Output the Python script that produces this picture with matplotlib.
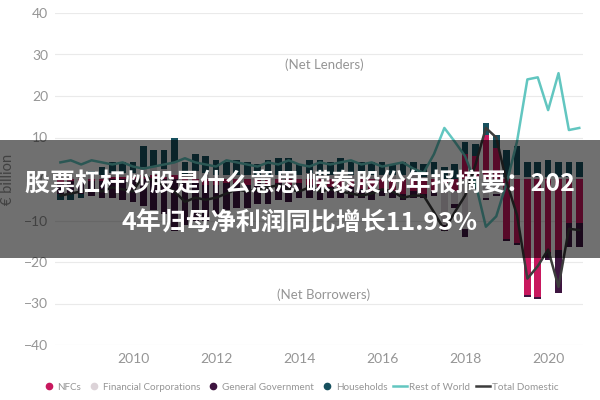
import numpy as np
import matplotlib
matplotlib.use("Agg")
import matplotlib.pyplot as plt
from matplotlib.lines import Line2D
from matplotlib.patches import Rectangle

# quarters 2008Q2 .. 2020Q4
quarters = [f"{y}Q{q}" for y in range(2008, 2021) for q in range(1, 5)][1:]
xpos = np.array([int(s[:4]) + (int(s[-1]) - 1) / 4 for s in quarters])

nfc = [-1.0, -0.5, -0.5, -0.5, -0.5, 0.5, 0.5, 0.5, 1.0, 1.0, 0.5, 1.0, -1.0, -1.0, -1.5,
       -1.5, -1.0, -1.0, -1.5, -1.0, -1.5, -1.0, -1.5, -1.0, -1.5, -2.0, -2.0, -2.5, -2.0,
       -2.5, -3.0, -2.5, -3.0, -3.5, -3.0, -3.5, -3.0, -1.0, -3.0, 6.0, 5.5, 10.5, 7.5,
       -14.5, -15.5, -28.0, -28.5, -17.5, -17.0, -10.5, -10.5]
fin = [0.5, 0.5, 1.0, 1.0, 1.0, 1.0, 1.0, 1.0, 2.0, 2.0, 2.0, 3.0, 1.0, 2.0, 1.5,
       1.0, 1.0, 1.0, 1.0, 0.5, 1.0, 1.0, 1.5, 1.0, 1.5, 1.0, 1.0, 1.5, 1.0,
       1.5, 1.0, 1.0, 1.0, 1.0, 1.0, 0.5, 1.0, -10.0, -3.0, -12.0, -2.0, -4.5, -3.5,
       0.5, 1.0, 0.5, 0.5, 0.5, 0.5, 0.5, 0.5]
gov = [-2.5, -3.0, -3.0, -3.5, -4.0, -4.5, -5.0, -5.5, -6.5, -7.5, -8.5, -12.5, -10.0, -9.0, -8.5,
       -7.0, -6.5, -6.0, -5.5, -5.0, -4.5, -4.0, -4.0, -3.5, -3.0, -3.0, -2.5, -2.0, -2.5,
       -2.0, -2.0, -1.5, -1.5, -1.5, -1.5, -1.0, -1.0, -1.5, -1.0, -2.0, -0.5, -0.5, -0.5,
       -0.5, -0.5, -0.5, -0.5, -2.0, -10.5, -6.0, -6.0]
hh = [-1.5, -1.5, -1.0, 1.0, 2.0, 2.5, 2.5, 2.5, 5.0, 4.0, 4.5, 6.0, 3.0, 4.0, 4.0,
      3.5, 3.0, 3.5, 3.0, 3.0, 3.5, 4.0, 3.5, 2.5, 3.0, 3.5, 3.0, 3.5, 3.0,
      2.5, 3.0, 3.0, 2.5, 3.0, 3.0, 3.0, 3.0, 3.0, 3.5, 3.0, 3.0, 3.0, 3.0,
      6.5, 7.0, 3.5, 3.5, 4.0, 3.5, 3.5, 3.5]
row = [4.0, 4.5, 3.5, 4.5, 4.0, 3.5, 4.0, 3.0, 2.5, 3.0, 3.5, 4.0, 5.0, 4.0, 3.5,
       3.0, 4.5, 4.0, 3.5, 3.0, 4.0, 3.5, 4.5, 3.5, 3.0, 4.0, 3.5, 4.0, 4.5,
       3.5, 4.0, 3.0, 3.5, 4.0, 2.5, 1.5, 6.0, 12.3, 9.0, 5.5, -1.0, -11.5, -9.0,
       -1.0, 9.0, 24.0, 24.5, 16.6, 25.5, 11.8, 12.3]
tot = [-4.0, -3.5, -3.0, -2.5, -3.0, -2.0, -2.5, -3.0, 1.0, -0.5, -1.5, -3.0, -5.5, -4.5, -5.0,
       -4.5, -3.5, -2.5, -3.0, -2.5, -2.0, -1.5, -2.5, -3.0, -2.0, -3.0, -2.5, -3.0, -3.5,
       -4.0, -3.5, -2.5, -3.0, -4.5, -4.0, -4.0, -8.0, -12.3, -8.0, -4.0, 3.5, 12.3, 10.0,
       -0.7, -8.7, -24.0, -21.0, -17.0, -26.0, -12.0, -12.3]

series = [("NFCs", nfc, "#C8185E"),
          ("Financial Corporations", fin, "#DCD3D8"),
          ("General Government", gov, "#3E1540"),
          ("Households", hh, "#17505E")]
row_color = "#62C6C0"
tot_color = "#3C3C3C"

y_ticks = [40, 30, 20, 10, 0, -10, -20, -30, -40]
x_ticks = [2010, 2012, 2014, 2016, 2018, 2020]

grey = "#959595"
fig = plt.figure(figsize=(6, 4), dpi=100)
ax = fig.add_axes([55 / 600, 55 / 400, 528 / 600, 332 / 400])
ax.set_xlim(2008.12, 2020.84)
ax.set_ylim(-40, 40)

pos_base = np.zeros(len(xpos))
neg_base = np.zeros(len(xpos))
w = 0.16
for name, vals, col in series:
    v = np.array(vals)
    bottom = np.where(v >= 0, pos_base, neg_base)
    ax.bar(xpos, v, bottom=bottom, width=w, color=col, zorder=2, linewidth=0)
    pos_base = pos_base + np.where(v >= 0, v, 0)
    neg_base = neg_base + np.where(v < 0, v, 0)

ax.plot(xpos, row, color=row_color, lw=1.8, zorder=3)
ax.plot(xpos, tot, color=tot_color, lw=1.8, zorder=3)

ax.set_yticks(y_ticks)
ax.set_xticks(x_ticks)
ax.grid(axis="y", color="#EAEAEA", lw=0.8, zorder=0)
ax.set_axisbelow(True)
for s in ax.spines.values():
    s.set_visible(False)
ax.tick_params(length=0, colors=grey, labelsize=10)
ax.tick_params(axis="x", pad=6)
ax.tick_params(axis="y", pad=5)
for lab in ax.get_xticklabels() + ax.get_yticklabels():
    lab.set_fontfamily("Lato")
ax.set_ylabel("€ billion", color=grey, fontsize=10.5, family="Lato")
ax.yaxis.set_label_coords(-40 / 528, 0.5)

ax.text(2014.6, 27.5, "(Net Lenders)", color=grey, fontsize=9.5, family="Lato",
        ha="center", va="center")
ax.text(2014.6, -28.0, "(Net Borrowers)", color=grey, fontsize=9.5, family="Lato",
        ha="center", va="center")

handles = [Line2D([], [], marker="o", ls="none", color=c, markersize=4.5) for _, _, c in series]
handles += [Line2D([], [], color=row_color, lw=1.8), Line2D([], [], color=tot_color, lw=1.8)]
labels = [n for n, _, _ in series] + ["Rest of World", "Total Domestic"]
leg = fig.legend(handles, labels, loc="center", bbox_to_anchor=(0.5, 13 / 400), ncol=6,
                 frameon=False, handlelength=1.4, handletextpad=0.2,
                 columnspacing=0.6, prop={"family": "Lato", "size": 7.1})
for t in leg.get_texts():
    t.set_color(grey)

# overlay banner
fig.patches.append(Rectangle((0, 142 / 400), 1, 118 / 400, transform=fig.transFigure,
                             facecolor="black", alpha=0.56, zorder=10))
fig.text(0.5, (400 - 184) / 400, "股票杠杆炒股是什么意思 嵘泰股份年报摘要：202",
         color="white", fontsize=18, fontweight="bold",
         family=["Noto Sans CJK SC", "DejaVu Sans"], ha="center", va="center", zorder=11)
fig.text(0.5, (400 - 223) / 400, "4年归母净利润同比增长11.93%",
         color="white", fontsize=18, fontweight="bold",
         family=["Noto Sans CJK SC", "DejaVu Sans"], ha="center", va="center", zorder=11)

fig.savefig("out.png", dpi=100)
